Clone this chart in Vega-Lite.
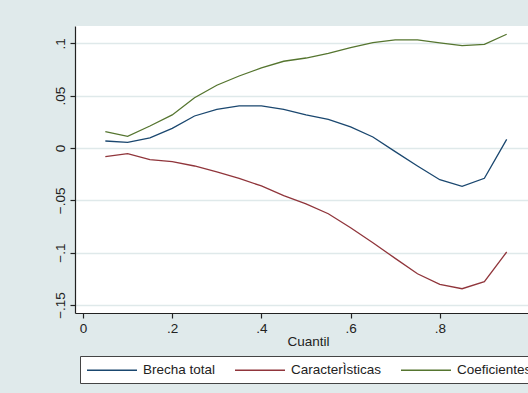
{
  "$schema": "https://vega.github.io/schema/vega-lite/v6.json",
  "autosize": "none",
  "width": 453,
  "height": 287,
  "padding": {"left": 75, "top": 26, "right": 0, "bottom": 80},
  "background": "#e0eaeb",
  "config": {
    "view": {"fill": "white", "stroke": null},
    "font": "Liberation Sans",
    "axis": {
      "labelFont": "Liberation Sans",
      "titleFont": "Liberation Sans",
      "labelFontSize": 13.5,
      "titleFontSize": 13.5,
      "labelColor": "#222222",
      "titleColor": "#222222",
      "titleFontWeight": "normal",
      "domainColor": "#222222",
      "tickColor": "#222222",
      "tickSize": 5,
      "domainWidth": 1.2,
      "tickWidth": 1.2
    },
    "legend": {"labelFont": "Liberation Sans", "labelFontSize": 13.5, "labelColor": "#222222"}
  },
  "data": {
    "values": [
      {"q": 0.05, "serie": "Brecha total", "v": 0.0067},
      {"q": 0.10, "serie": "Brecha total", "v": 0.0054},
      {"q": 0.15, "serie": "Brecha total", "v": 0.0096},
      {"q": 0.20, "serie": "Brecha total", "v": 0.0188},
      {"q": 0.25, "serie": "Brecha total", "v": 0.0306},
      {"q": 0.30, "serie": "Brecha total", "v": 0.0370},
      {"q": 0.35, "serie": "Brecha total", "v": 0.0402},
      {"q": 0.40, "serie": "Brecha total", "v": 0.0402},
      {"q": 0.45, "serie": "Brecha total", "v": 0.0370},
      {"q": 0.50, "serie": "Brecha total", "v": 0.0316},
      {"q": 0.55, "serie": "Brecha total", "v": 0.0274},
      {"q": 0.60, "serie": "Brecha total", "v": 0.0201},
      {"q": 0.65, "serie": "Brecha total", "v": 0.0105},
      {"q": 0.70, "serie": "Brecha total", "v": -0.0035},
      {"q": 0.75, "serie": "Brecha total", "v": -0.0172},
      {"q": 0.80, "serie": "Brecha total", "v": -0.0303},
      {"q": 0.85, "serie": "Brecha total", "v": -0.0366},
      {"q": 0.90, "serie": "Brecha total", "v": -0.0290},
      {"q": 0.95, "serie": "Brecha total", "v": 0.0083},
      {"q": 0.05, "serie": "CaracterÌsticas", "v": -0.0083},
      {"q": 0.10, "serie": "CaracterÌsticas", "v": -0.0054},
      {"q": 0.15, "serie": "CaracterÌsticas", "v": -0.0112},
      {"q": 0.20, "serie": "CaracterÌsticas", "v": -0.0131},
      {"q": 0.25, "serie": "CaracterÌsticas", "v": -0.0172},
      {"q": 0.30, "serie": "CaracterÌsticas", "v": -0.0229},
      {"q": 0.35, "serie": "CaracterÌsticas", "v": -0.0290},
      {"q": 0.40, "serie": "CaracterÌsticas", "v": -0.0363},
      {"q": 0.45, "serie": "CaracterÌsticas", "v": -0.0456},
      {"q": 0.50, "serie": "CaracterÌsticas", "v": -0.0535},
      {"q": 0.55, "serie": "CaracterÌsticas", "v": -0.0628},
      {"q": 0.60, "serie": "CaracterÌsticas", "v": -0.0762},
      {"q": 0.65, "serie": "CaracterÌsticas", "v": -0.0905},
      {"q": 0.70, "serie": "CaracterÌsticas", "v": -0.1055},
      {"q": 0.75, "serie": "CaracterÌsticas", "v": -0.1202},
      {"q": 0.80, "serie": "CaracterÌsticas", "v": -0.1304},
      {"q": 0.85, "serie": "CaracterÌsticas", "v": -0.1345},
      {"q": 0.90, "serie": "CaracterÌsticas", "v": -0.1278},
      {"q": 0.95, "serie": "CaracterÌsticas", "v": -0.0994},
      {"q": 0.05, "serie": "Coeficientes", "v": 0.0156},
      {"q": 0.10, "serie": "Coeficientes", "v": 0.0112},
      {"q": 0.15, "serie": "Coeficientes", "v": 0.0210},
      {"q": 0.20, "serie": "Coeficientes", "v": 0.0316},
      {"q": 0.25, "serie": "Coeficientes", "v": 0.0480},
      {"q": 0.30, "serie": "Coeficientes", "v": 0.0600},
      {"q": 0.35, "serie": "Coeficientes", "v": 0.0688},
      {"q": 0.40, "serie": "Coeficientes", "v": 0.0765},
      {"q": 0.45, "serie": "Coeficientes", "v": 0.0829},
      {"q": 0.50, "serie": "Coeficientes", "v": 0.0860},
      {"q": 0.55, "serie": "Coeficientes", "v": 0.0905},
      {"q": 0.60, "serie": "Coeficientes", "v": 0.0959},
      {"q": 0.65, "serie": "Coeficientes", "v": 0.1007},
      {"q": 0.70, "serie": "Coeficientes", "v": 0.1033},
      {"q": 0.75, "serie": "Coeficientes", "v": 0.1033},
      {"q": 0.80, "serie": "Coeficientes", "v": 0.1004},
      {"q": 0.85, "serie": "Coeficientes", "v": 0.0978},
      {"q": 0.90, "serie": "Coeficientes", "v": 0.0991},
      {"q": 0.95, "serie": "Coeficientes", "v": 0.1087}
    ]
  },
  "mark": {"type": "line", "strokeWidth": 1.3, "clip": true},
  "encoding": {
    "x": {
      "field": "q",
      "type": "quantitative",
      "title": "Cuantil",
      "scale": {"domain": [-0.018, 0.9978], "nice": false, "zero": false},
      "axis": {
        "values": [0, 0.2, 0.4, 0.6, 0.8],
        "labelExpr": "replace(format(datum.value, '~g'), '0.', '.')",
        "grid": false,
        "labelPadding": 3,
        "titlePadding": 0,
        "titleX": 233,
        "labelFlush": false
      }
    },
    "y": {
      "field": "v",
      "type": "quantitative",
      "title": null,
      "scale": {"domain": [-0.1577, 0.1166], "nice": false, "zero": false},
      "axis": {
        "values": [-0.15, -0.1, -0.05, 0, 0.05, 0.1],
        "labelExpr": "replace(format(datum.value, '~g'), '0.', '.')",
        "labelAngle": -90,
        "labelAlign": "center",
        "labelBaseline": "bottom",
        "labelPadding": 3,
        "grid": true,
        "gridColor": "#dfe9ea",
        "gridWidth": 1.5,
        "labelFlush": false
      }
    },
    "color": {
      "field": "serie",
      "type": "nominal",
      "scale": {
        "domain": ["Brecha total", "CaracterÌsticas", "Coeficientes"],
        "range": ["#1a476f", "#90353b", "#55752f"]
      },
      "legend": {
        "title": null,
        "orient": "none",
        "legendX": 5,
        "legendY": 330,
        "direction": "horizontal",
        "symbolType": "M-1,0H6.143",
        "symbolSize": 196,
        "symbolStrokeWidth": 1.3,
        "labelOffset": 41,
        "columnPadding": 16,
        "padding": 6,
        "fillColor": "white",
        "strokeColor": "#444444",
        "cornerRadius": 0
      }
    }
  }
}
